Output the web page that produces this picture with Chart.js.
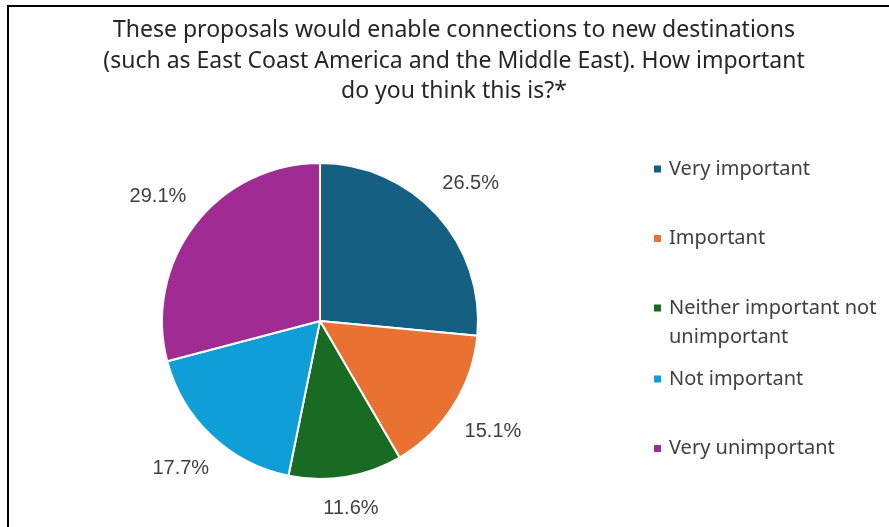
<!DOCTYPE html>
<html>
<head>
<meta charset="utf-8">
<script src="https://cdn.jsdelivr.net/npm/chart.js@4.4.0/dist/chart.umd.min.js"></script>
<style>
    html, body { margin: 0; padding: 0; background: #fff; }
    #wrap { position: relative; width: 889px; height: 527px; }
    #frame { position: absolute; left: 7px; top: 5px; right: 0; bottom: 0; border-left: 2px solid #000; border-top: 2px solid #000; pointer-events: none; }
</style>
</head>
<body>
<div id="wrap">
    <canvas id="pieChart" width="889" height="527"></canvas>
    <div id="frame"></div>
</div>
<script>
// Chart data
const titleLines = [
    'These proposals would enable connections to new destinations',
    '(such as East Coast America and the Middle East). How important',
    'do you think this is?*'
];
const categories = ['Very important', 'Important', 'Neither important not unimportant', 'Not important', 'Very unimportant'];
const legendLines = [['Very important'], ['Important'], ['Neither important not', 'unimportant'], ['Not important'], ['Very unimportant']];
const shares = [26.5, 15.1, 11.6, 17.7, 29.1];
const sliceColors = ['#156082', '#E97132', '#196B24', '#0F9ED5', '#A02B93'];

// Title drawn centred over the whole frame
const titleBlock = {
    id: 'titleBlock',
    afterDraw(chart) {
        const ctx = chart.ctx;
        ctx.save();
        ctx.font = '23px "Noto Sans", sans-serif';
        ctx.fillStyle = '#262626';
        ctx.textAlign = 'center';
        ctx.textBaseline = 'alphabetic';
        titleLines.forEach((line, i) => ctx.fillText(line, 454, 37 + i * 30.5));
        ctx.restore();
    }
};

// Percentage labels outside each slice (box kept a fixed gap off the rim)
const outsideLabels = {
    id: 'outsideLabels',
    afterDatasetsDraw(chart) {
        const ctx = chart.ctx;
        const meta = chart.getDatasetMeta(0);
        ctx.save();
        ctx.font = '20px "Liberation Sans", Arial, sans-serif';
        ctx.fillStyle = '#404040';
        ctx.textAlign = 'center';
        ctx.textBaseline = 'middle';
        meta.data.forEach((arc, i) => {
            const p = arc.getProps(['x', 'y', 'startAngle', 'endAngle', 'outerRadius'], true);
            const text = shares[i].toFixed(1) + '%';
            const mid = (p.startAngle + p.endAngle) / 2;
            const ux = Math.cos(mid), uy = Math.sin(mid);
            const halfW = ctx.measureText(text).width / 2;
            const r = p.outerRadius + 18 + halfW * Math.abs(ux) + 10 * Math.abs(uy);
            ctx.fillText(text, p.x + ux * r, p.y + uy * r);
        });
        ctx.restore();
    }
};

// Legend drawn on the right, with wrapped entry
const sideLegend = {
    id: 'sideLegend',
    afterDraw(chart) {
        const ctx = chart.ctx;
        ctx.save();
        ctx.font = '20px "Noto Sans", sans-serif';
        ctx.textBaseline = 'middle';
        let y = 169;
        legendLines.forEach((lines, i) => {
            ctx.fillStyle = sliceColors[i];
            ctx.fillRect(654, y - 3.5, 7, 7);
            ctx.fillStyle = '#404040';
            lines.forEach((line, j) => ctx.fillText(line, 669, y + j * 29));
            y += 69.5 + (lines.length - 1) * 1.5;
        });
        ctx.restore();
    }
};

const ctx = document.getElementById('pieChart').getContext('2d');
new Chart(ctx, {
    type: 'pie',
    data: {
        labels: categories,
        datasets: [{
            data: shares,
            backgroundColor: sliceColors,
            borderColor: '#fff',
            borderWidth: 2
        }]
    },
    options: {
        responsive: false,
        animation: false,
        layout: { padding: { left: 18, right: 267, top: 162, bottom: 47 } },
        plugins: {
            legend: { display: false },
            tooltip: { enabled: false },
            title: { display: false }
        }
    },
    plugins: [titleBlock, outsideLabels, sideLegend]
});
</script>
</body>
</html>
